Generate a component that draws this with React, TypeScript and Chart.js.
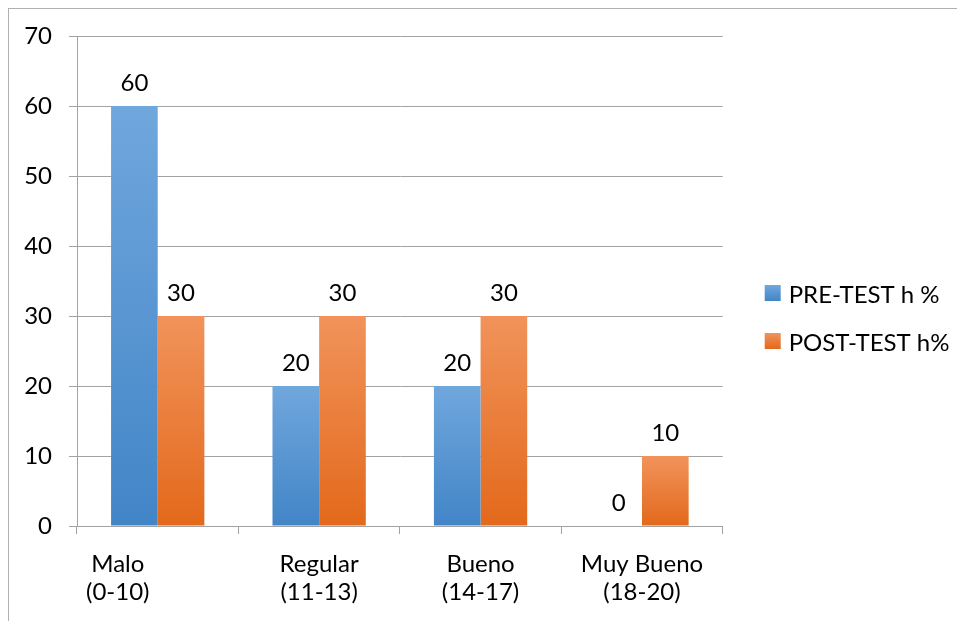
import React, { useEffect, useRef } from "react";
import { Chart, registerables } from "chart.js";

Chart.register(...registerables);

// Grade bands on the category axis (two-line labels)
const categories: string[][] = [
  ["Malo", "(0-10)"],
  ["Regular", "(11-13)"],
  ["Bueno", "(14-17)"],
  ["Muy Bueno", "(18-20)"],
];

// Percentage of students in each band
const preTest = [60, 20, 20, 0];
const postTest = [30, 30, 30, 10];
const seriesLabels = ["PRE-TEST h %", "POST-TEST h%"];

// Value axis
const yMin = 0;
const yMax = 70;
const yStep = 10;

const FONT = "Lato, 'Open Sans', sans-serif";
const FONT_SIZE = 24;
const TEXT = "#000000";
const GRID = "#a3a3a3";

type Fill = { top: string; bottom: string; solid: string };
const BLUE: Fill = { top: "#70a7dd", bottom: "#4285c7", solid: "#5b9bd5" };
const ORANGE: Fill = { top: "#f1935b", bottom: "#e3691b", solid: "#ed7d31" };
const FILLS = [BLUE, ORANGE];

// The first label sits left of its group; trailing spaces push it over.
const FIRST_LABEL_PAD = " ".repeat(13);

const barGradient = (c: Fill) => (ctx: any) => {
  const chart = ctx.chart;
  if (!chart.chartArea || ctx.type !== "data") return c.solid;
  const y = chart.scales.y;
  const top = y.getPixelForValue(ctx.raw as number);
  const bottom = y.getPixelForValue(0);
  if (bottom - top < 1) return c.solid;
  const g = chart.ctx.createLinearGradient(0, top, 0, bottom);
  g.addColorStop(0, c.top);
  g.addColorStop(1, c.bottom);
  return g;
};

// Writes each bar's value above it
const valueLabels = {
  id: "valueLabels",
  afterDatasetsDraw(chart: any) {
    const { ctx } = chart;
    ctx.save();
    ctx.font = `${FONT_SIZE}px ${FONT}`;
    ctx.fillStyle = TEXT;
    ctx.textAlign = "center";
    ctx.textBaseline = "alphabetic";
    chart.data.datasets.forEach((ds: any, di: number) => {
      const meta = chart.getDatasetMeta(di);
      meta.data.forEach((bar: any, i: number) => {
        ctx.fillText(String(ds.data[i]), bar.x, bar.y - 15);
      });
    });
    ctx.restore();
  },
};

// Series key to the right of the plot area
const sideLegend = {
  id: "sideLegend",
  afterDraw(chart: any) {
    const { ctx, chartArea } = chart;
    const box = 16;
    const rowGap = 48;
    const x = chartArea.right + 42;
    const centerY = (chartArea.top + chartArea.bottom) / 2 + 36;
    const n = chart.data.datasets.length;
    const firstY = centerY - ((n - 1) * rowGap) / 2;
    ctx.save();
    ctx.font = `${FONT_SIZE}px ${FONT}`;
    ctx.fillStyle = TEXT;
    ctx.textAlign = "left";
    ctx.textBaseline = "middle";
    chart.data.datasets.forEach((ds: any, i: number) => {
      const cy = firstY + i * rowGap;
      const f = FILLS[i];
      const g = ctx.createLinearGradient(0, cy - box / 2, 0, cy + box / 2);
      g.addColorStop(0, f.top);
      g.addColorStop(1, f.bottom);
      ctx.fillStyle = g;
      ctx.fillRect(x, cy - box / 2, box, box);
      ctx.fillStyle = TEXT;
      ctx.fillText(ds.label, x + box + 8, cy + 2);
    });
    ctx.restore();
  },
};

export default function App() {
  const canvasRef = useRef<HTMLCanvasElement>(null);

  useEffect(() => {
    document.body.style.margin = "0";
    document.body.style.overflow = "hidden";
    const canvas = canvasRef.current!;

    const chart = new Chart(canvas, {
      type: "bar",
      data: {
        labels: categories.map((c) => c.join(" ")),
        datasets: [
          {
            label: seriesLabels[0],
            data: preTest,
            backgroundColor: barGradient(BLUE),
            borderWidth: 0,
            categoryPercentage: 0.578,
            barPercentage: 1,
          },
          {
            label: seriesLabels[1],
            data: postTest,
            backgroundColor: barGradient(ORANGE),
            borderWidth: 0,
            categoryPercentage: 0.578,
            barPercentage: 1,
          },
        ],
      },
      options: {
        responsive: false,
        devicePixelRatio: 1,
        animation: false,
        layout: { padding: { top: 36, bottom: 0, left: 0, right: 234.3 } },
        plugins: {
          tooltip: { enabled: false },
          legend: { display: false },
        },
        scales: {
          x: {
            grid: {
              drawOnChartArea: false,
              drawTicks: true,
              tickLength: 8,
              color: GRID,
              offset: true,
            },
            border: { color: GRID },
            ticks: {
              color: TEXT,
              padding: 16,
              maxRotation: 0,
              autoSkip: false,
              font: { family: FONT, size: FONT_SIZE, lineHeight: 1.17 },
              callback: (_v: any, i: number) =>
                i === 0 ? categories[i].map((s) => s + FIRST_LABEL_PAD) : categories[i],
            },
            afterFit: (s: any) => {
              s.height = 95;
            },
          },
          y: {
            min: yMin,
            max: yMax,
            ticks: {
              stepSize: yStep,
              color: TEXT,
              padding: 17,
              font: { family: FONT, size: FONT_SIZE },
            },
            grid: { color: GRID, tickLength: 8 },
            border: { color: GRID },
            afterFit: (s: any) => {
              s.width = 77;
            },
          },
        },
      },
      plugins: [valueLabels, sideLegend],
    });

    return () => chart.destroy();
  }, []);

  return (
    <div style={{ position: "relative", width: 957, height: 621, overflow: "hidden", background: "#ffffff" }}>
      <canvas ref={canvasRef} width={957} height={621} style={{ position: "absolute", left: 0, top: 0 }} />
      <div
        style={{
          position: "absolute",
          left: 8,
          top: 8,
          width: 1000,
          height: 700,
          borderLeft: "1px solid #b0b0b0",
          borderTop: "1px solid #b0b0b0",
          pointerEvents: "none",
        }}
      />
    </div>
  );
}
